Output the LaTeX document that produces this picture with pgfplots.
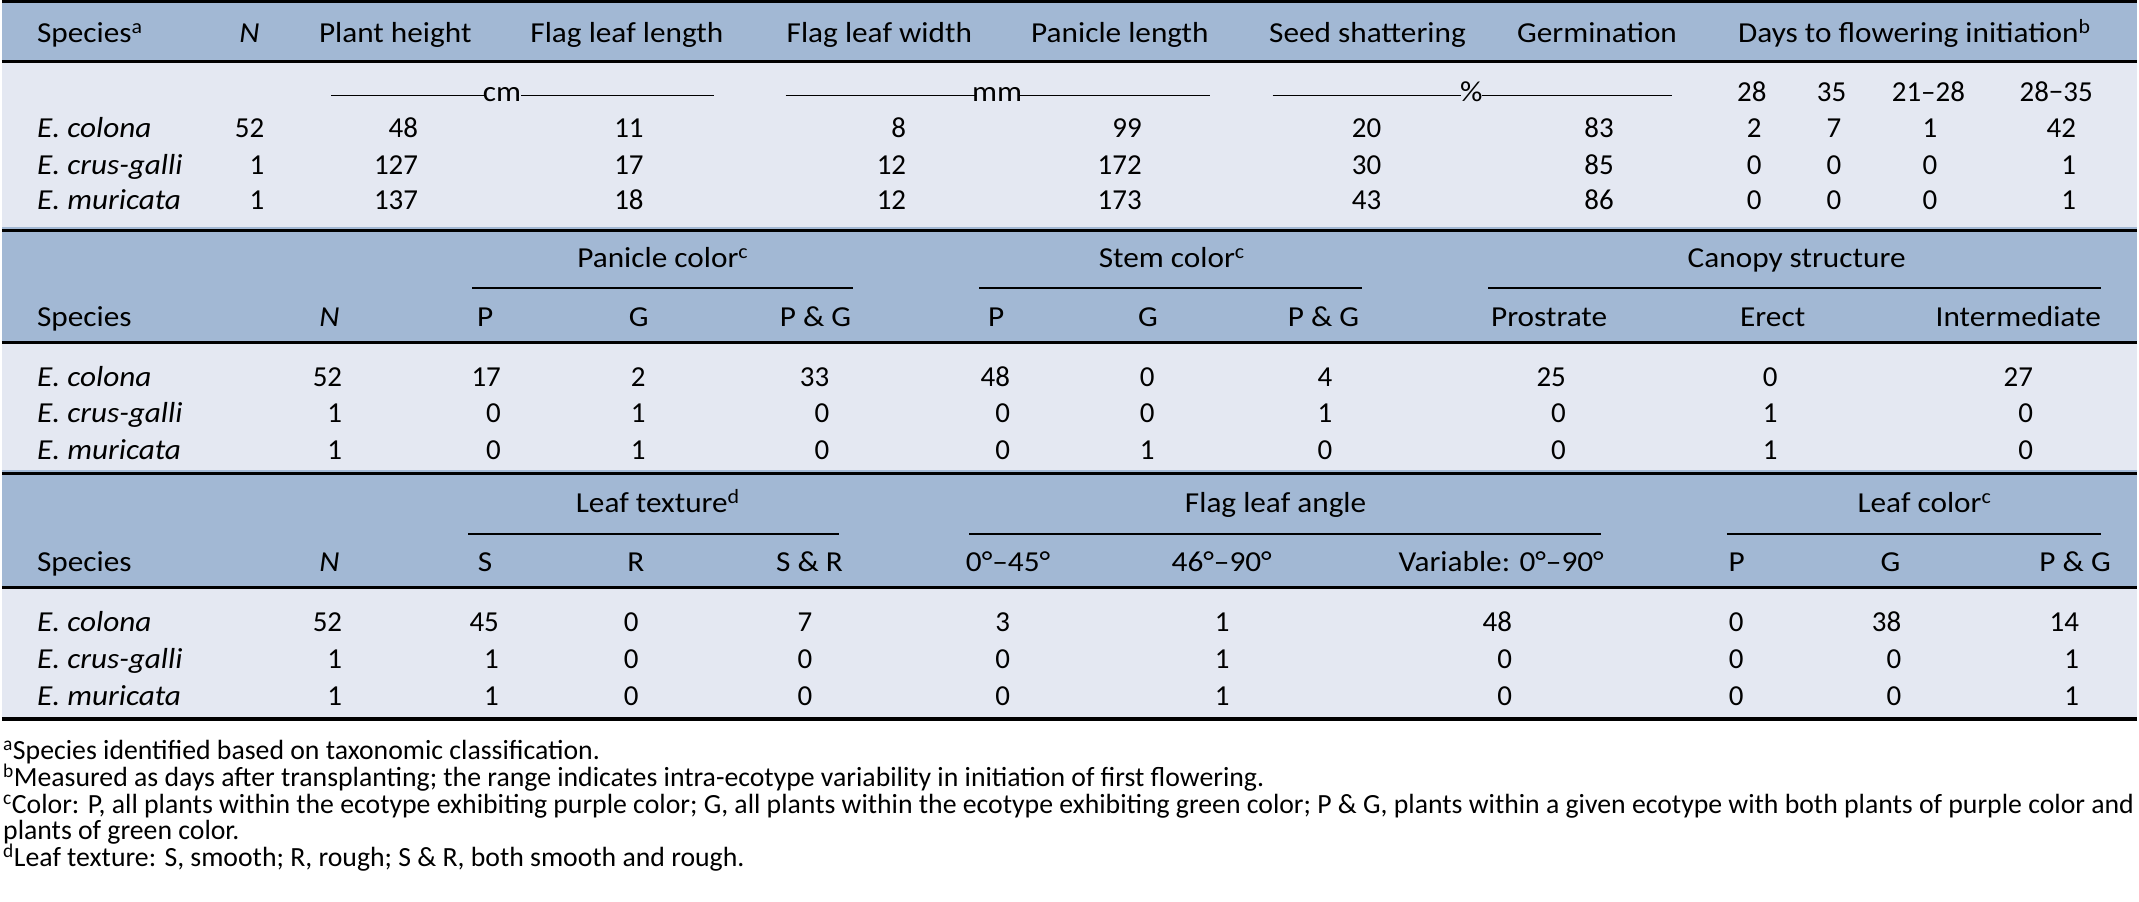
\documentclass[border=0pt]{standalone}
\usepackage{fontspec}
\setmainfont{Carlito}
\newfontfamily\wf[FakeStretch=1.08]{Carlito}
\usepackage{pgfplots}
\pgfplotsset{compat=1.18}
\usepackage{pgfplotstable}
\definecolor{hdr}{RGB}{162,184,212}
\definecolor{bdy}{RGB}{228,232,242}
\newcommand{\tf}{\fontsize{29pt}{34pt}\selectfont\wf}
\newcommand{\nf}{\fontsize{29pt}{34pt}\selectfont}
\newcommand{\ff}{\fontsize{27.8pt}{30pt}\selectfont}

% Section 1: x = right edge of value, y = baseline
\pgfplotstableread{
x y v
263 138 52
263 175 1
263 210 1
417 138 48
417 175 127
417 210 137
643 138 11
643 175 17
643 210 18
906 138 8
906 175 12
906 210 12
1142 138 99
1142 175 172
1142 210 173
1382 138 20
1382 175 30
1382 210 43
1615 138 83
1615 175 85
1615 210 86
1763 138 2
1763 175 0
1763 210 0
1843 138 7
1843 175 0
1843 210 0
1939 138 1
1939 175 0
1939 210 0
2078 138 42
2078 175 1
2078 210 1
}\secone

\pgfplotstableread{
x y v
341 387 52
341 423 1
341 460 1
500 387 17
500 423 0
500 460 0
645 387 2
645 423 1
645 460 1
829 387 33
829 423 0
829 460 0
1010 387 48
1010 423 0
1010 460 0
1155 387 0
1155 423 0
1155 460 1
1333 387 4
1333 423 1
1333 460 0
1567 387 25
1567 423 0
1567 460 0
1779 387 0
1779 423 1
1779 460 1
2035 387 27
2035 423 0
2035 460 0
}\sectwo

\pgfplotstableread{
x y v
341 633 52
341 670 1
341 707 1
498 633 45
498 670 1
498 707 1
638 633 0
638 670 0
638 707 0
812 633 7
812 670 0
812 707 0
1010 633 3
1010 670 0
1010 707 0
1230 633 1
1230 670 1
1230 707 1
1513 633 48
1513 670 0
1513 707 0
1745 633 0
1745 670 0
1745 707 0
1903 633 38
1903 670 0
1903 707 0
2081 633 14
2081 670 1
2081 707 1
}\secthree

\begin{document}
\begin{tikzpicture}
\begin{axis}[
  width=2139pt, height=903pt, scale only axis,
  xmin=0, xmax=2139, ymin=0, ymax=903, y dir=reverse,
  hide axis, clip=false,
  every node near coord/.append style={anchor=base east, inner sep=0pt, font=\nf, text=black},
]
% backgrounds
\fill[hdr] (axis cs:0,0) rectangle (axis cs:2139,61.5);
\fill[bdy] (axis cs:0,61.5) rectangle (axis cs:2139,227);
\fill[hdr] (axis cs:0,227) rectangle (axis cs:2139,345);
\fill[bdy] (axis cs:0,345) rectangle (axis cs:2139,471);
\fill[hdr] (axis cs:0,471) rectangle (axis cs:2139,589);
\fill[bdy] (axis cs:0,589) rectangle (axis cs:2139,720);
\path (axis cs:0,0) rectangle (axis cs:2139,903);
% rules
\draw[line width=3pt] (axis cs:0,1.5) -- (axis cs:2139,1.5);
\draw[line width=3pt] (axis cs:0,61.5) -- (axis cs:2139,61.5);
\draw[line width=3pt] (axis cs:0,230.5) -- (axis cs:2139,230.5);
\draw[line width=3pt] (axis cs:0,343.5) -- (axis cs:2139,343.5);
\draw[line width=3pt] (axis cs:0,474.5) -- (axis cs:2139,474.5);
\draw[line width=3pt] (axis cs:0,589) -- (axis cs:2139,589);
\draw[line width=4pt] (axis cs:0,720) -- (axis cs:2139,720);
% cmidrules
\draw[line width=2pt] (axis cs:471,289) -- (axis cs:853,289);
\draw[line width=2pt] (axis cs:979,289) -- (axis cs:1363,289);
\draw[line width=2pt] (axis cs:1489,289) -- (axis cs:2103,289);
\draw[line width=2pt] (axis cs:467,535) -- (axis cs:839,535);
\draw[line width=2pt] (axis cs:969,535) -- (axis cs:1602,535);
\draw[line width=2pt] (axis cs:1728,535) -- (axis cs:2103,535);
% unit lines
\draw[line width=1.3pt] (axis cs:330,96) -- (axis cs:483,96);
\draw[line width=1.3pt] (axis cs:520,96) -- (axis cs:713,96);
\draw[line width=1.3pt] (axis cs:785,96) -- (axis cs:976,96);
\draw[line width=1.3pt] (axis cs:1019,96) -- (axis cs:1210,96);
\draw[line width=1.3pt] (axis cs:1273,96) -- (axis cs:1462,96);
\draw[line width=1.3pt] (axis cs:1483,96) -- (axis cs:1673,96);

\begin{scope}[every node/.style={inner sep=0pt, font=\tf, text=black}]
% section 1 headers
\node[anchor=base west] at (axis cs:35,43) {Species\textsuperscript{a}};
\node[anchor=base] at (axis cs:248,43) {\textit{N}};
\node[anchor=base] at (axis cs:394,43) {Plant height};
\node[anchor=base] at (axis cs:626,43) {Flag leaf length};
\node[anchor=base] at (axis cs:879,43) {Flag leaf width};
\node[anchor=base] at (axis cs:1120,43) {Panicle length};
\node[anchor=base] at (axis cs:1368,43) {Seed shattering};
\node[anchor=base] at (axis cs:1598,43) {Germination};
\node[anchor=base] at (axis cs:1916,43) {Days to flowering initiation\textsuperscript{b}};
\node[anchor=base] at (axis cs:501,102) {cm};
\node[anchor=base] at (axis cs:997,102) {mm};
\node[anchor=base] at (axis cs:1472,102) {\%};
\node[anchor=base, font=\nf] at (axis cs:1753,102) {28};
\node[anchor=base, font=\nf] at (axis cs:1833,102) {35};
\node[anchor=base, font=\nf] at (axis cs:1930,102) {21–28};
\node[anchor=base, font=\nf] at (axis cs:2058,102) {28−35};
\node[anchor=base west] at (axis cs:35,138) {\textit{E. colona}};
\node[anchor=base west] at (axis cs:35,175) {\textit{E. crus-galli}};
\node[anchor=base west] at (axis cs:35,210) {\textit{E. muricata}};
% section 2 headers
\node[anchor=base] at (axis cs:662,268) {Panicle color\textsuperscript{c}};
\node[anchor=base] at (axis cs:1172,268) {Stem color\textsuperscript{c}};
\node[anchor=base] at (axis cs:1798,268) {Canopy structure};
\node[anchor=base west] at (axis cs:35,327) {Species};
\node[anchor=base] at (axis cs:328,327) {\textit{N}};
\node[anchor=base] at (axis cs:484,327) {P};
\node[anchor=base] at (axis cs:638,327) {G};
\node[anchor=base] at (axis cs:815,327) {P \& G};
\node[anchor=base] at (axis cs:996,327) {P};
\node[anchor=base] at (axis cs:1148,327) {G};
\node[anchor=base] at (axis cs:1324,327) {P \& G};
\node[anchor=base] at (axis cs:1550,327) {Prostrate};
\node[anchor=base] at (axis cs:1774,327) {Erect};
\node[anchor=base] at (axis cs:2020,327) {Intermediate};
\node[anchor=base west] at (axis cs:35,387) {\textit{E. colona}};
\node[anchor=base west] at (axis cs:35,423) {\textit{E. crus-galli}};
\node[anchor=base west] at (axis cs:35,460) {\textit{E. muricata}};
% section 3 headers
\node[anchor=base] at (axis cs:657,513) {Leaf texture\textsuperscript{d}};
\node[anchor=base] at (axis cs:1276,513) {Flag leaf angle};
\node[anchor=base] at (axis cs:1926,513) {Leaf color\textsuperscript{c}};
\node[anchor=base west] at (axis cs:35,573) {Species};
\node[anchor=base] at (axis cs:328,573) {\textit{N}};
\node[anchor=base] at (axis cs:484,573) {S};
\node[anchor=base] at (axis cs:635,573) {R};
\node[anchor=base] at (axis cs:809,573) {S \& R};
\node[anchor=base] at (axis cs:1008,573) {0°–45°};
\node[anchor=base] at (axis cs:1222,573) {46°–90°};
\node[anchor=base] at (axis cs:1502,573) {Variable: 0°–90°};
\node[anchor=base] at (axis cs:1738,573) {P};
\node[anchor=base] at (axis cs:1892,573) {G};
\node[anchor=base] at (axis cs:2077,573) {P \& G};
\node[anchor=base west] at (axis cs:35,633) {\textit{E. colona}};
\node[anchor=base west] at (axis cs:35,670) {\textit{E. crus-galli}};
\node[anchor=base west] at (axis cs:35,707) {\textit{E. muricata}};
% footnotes
\node[anchor=base west, font=\ff] at (axis cs:1,761) {\textsuperscript{a}Species identified based on taxonomic classification.};
\node[anchor=base west, font=\ff] at (axis cs:1,788) {\textsuperscript{b}Measured as days after transplanting; the range indicates intra-ecotype variability in initiation of first flowering.};
\node[anchor=base west, font=\ff] at (axis cs:1,815) {\textsuperscript{c}Color: P, all plants within the ecotype exhibiting purple color; G, all plants within the ecotype exhibiting green color; P \& G, plants within a given ecotype with both plants of purple color and};
\node[anchor=base west, font=\ff] at (axis cs:1,841) {plants of green color.};
\node[anchor=base west, font=\ff] at (axis cs:1,868) {\textsuperscript{d}Leaf texture: S, smooth; R, rough; S \& R, both smooth and rough.};
\end{scope}

% data values
\addplot[draw=none, mark=none, nodes near coords, point meta=explicit symbolic] table[x=x, y=y, meta=v] {\secone};
\addplot[draw=none, mark=none, nodes near coords, point meta=explicit symbolic] table[x=x, y=y, meta=v] {\sectwo};
\addplot[draw=none, mark=none, nodes near coords, point meta=explicit symbolic] table[x=x, y=y, meta=v] {\secthree};
\end{axis}
\end{tikzpicture}
\end{document}
